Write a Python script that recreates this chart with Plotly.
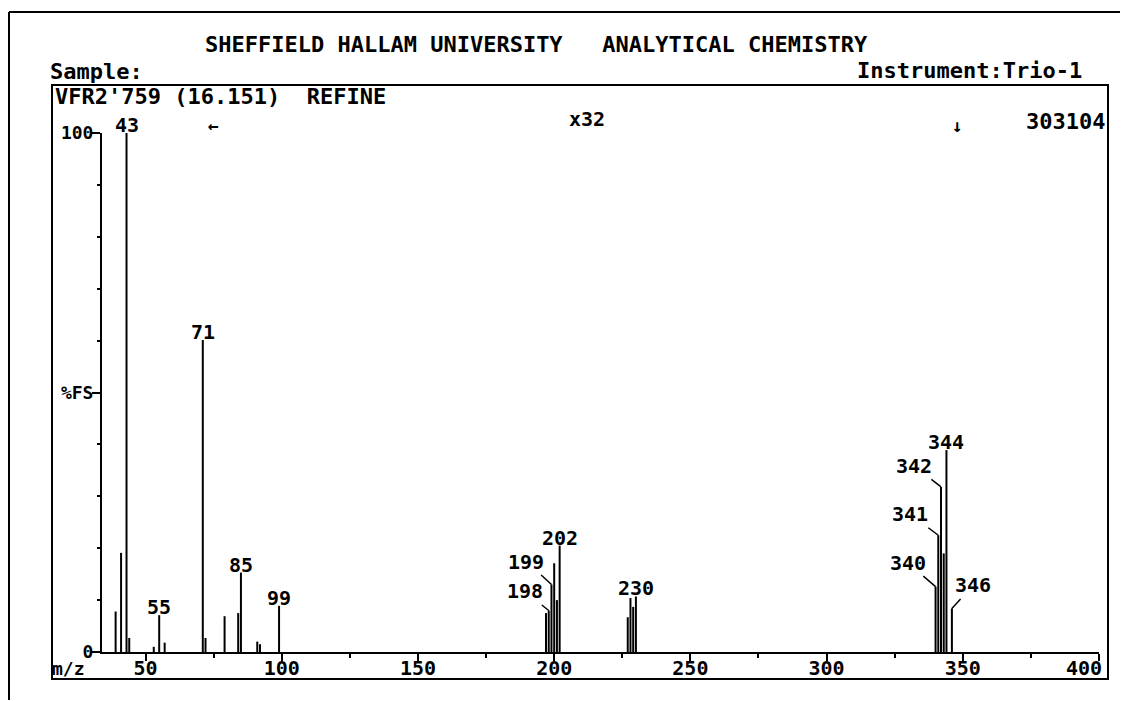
import plotly.graph_objects as go

# ---- data ----
mz = [39, 41, 43, 44, 53, 55, 57, 71, 72, 79, 84, 85, 91, 92, 99,
      197, 198, 199, 200, 201, 202, 227, 228, 229, 230,
      340, 341, 342, 343, 344, 346]
intensity = [7.8, 19.1, 100, 2.7, 1.0, 7.1, 1.8, 60.1, 2.7, 6.9, 7.5, 15.3, 2.0, 1.5, 8.9,
             7.5, 8.0, 13.0, 17.1, 10.0, 20.5, 6.7, 10.4, 8.7, 10.7,
             12.6, 22.5, 31.8, 19.0, 38.9, 8.4]

top_labels = [43, 55, 71, 85, 99, 202, 230, 344]
leader_labels = [198, 199, 340, 341, 342, 346]
leader_offsets = {198: (-24, -19), 199: (-25, -23), 340: (-28, -24),
                  341: (-28, -21), 342: (-27, -21), 346: (21, -23)}

x_tickvals = [50, 100, 150, 200, 250, 300, 350, 400]
x_ticktext = ["50", "100", "150", "200", "250", "300", "350", ""]
last_tick_text = "400"   # drawn just inside the frame, as on the print-out
y_tickvals = [0, 50, 100]
y_ticktext = ["0", "%FS", "100"]

title_text = "SHEFFIELD HALLAM UNIVERSITY   ANALYTICAL CHEMISTRY"
sample_text = "Sample:"
instrument_text = "Instrument:Trio-1"
scan_text = "VFR2'759 (16.151)  REFINE"
mag_text = "x32"
fs_text = "303104"

F = "DejaVu Sans Mono"
W, H = 1121, 701
L, R, T, B = 102, 1099, 133, 652


def px(x):
    return (x - L) / (R - L)


def py(y):
    return (B - y) / (B - T)


xs, ys = [], []
for m, h in zip(mz, intensity):
    xs += [m, m, None]
    ys += [0, h, None]

fig = go.Figure()
fig.add_trace(go.Scatter(x=xs, y=ys, mode="lines",
                         line=dict(color="black", width=2),
                         hoverinfo="skip", showlegend=False))

lookup = dict(zip(mz, intensity))
ann = []
for m in top_labels:
    ann.append(dict(x=m, y=lookup[m], xref="x", yref="y", text=str(m),
                    showarrow=False, yanchor="middle", yshift=8,
                    font=dict(family=F, size=20, color="black", weight="bold")))
for m in leader_labels:
    ax, ay = leader_offsets[m]
    ann.append(dict(x=m, y=lookup[m], xref="x", yref="y", text=str(m),
                    showarrow=True, arrowhead=0, arrowwidth=1.5, arrowcolor="black",
                    ax=ax, ay=ay, standoff=0,
                    font=dict(family=F, size=20, color="black", weight="bold")))


def txt(t, x, y, anchor="center", size=22, yanchor="middle"):
    return dict(x=px(x), y=py(y), xref="paper", yref="paper", text=t,
                showarrow=False, xanchor=anchor, yanchor=yanchor,
                font=dict(family=F, size=size, color="black", weight="bold"))


ann += [
    txt(title_text, 536, 44),
    txt(sample_text, 48, 86, "left", yanchor="bottom"),
    txt(instrument_text, 1084, 85, "right", yanchor="bottom"),
    txt(scan_text, 53, 82, "left", yanchor="top"),
    txt(mag_text, 587, 119, size=20),
    txt(fs_text, 1107, 121, "right"),
    txt("\u2190", 213, 125, size=18),
    txt("\u2193", 957, 125, size=18),
    txt("m/z", 87, 668, "right", size=18),
    txt(last_tick_text, 1104, 668, "right", size=20),
]

shapes = [
    # inner frame
    dict(type="rect", xref="paper", yref="paper",
         x0=px(52), x1=px(1108), y0=py(85), y1=py(679),
         line=dict(color="black", width=2)),
    # outer frame (top and left edges)
    dict(type="line", xref="paper", yref="paper",
         x0=px(9), x1=px(1120), y0=py(12), y1=py(12),
         line=dict(color="black", width=2)),
    dict(type="line", xref="paper", yref="paper",
         x0=px(9), x1=px(9), y0=py(12), y1=py(700),
         line=dict(color="black", width=2)),
]

fig.update_layout(
    width=W, height=H,
    margin=dict(l=L, r=W - R, t=T, b=H - B, pad=0),
    paper_bgcolor="white", plot_bgcolor="white",
    showlegend=False,
    annotations=ann, shapes=shapes,
    xaxis=dict(range=[34, 400], showgrid=False, zeroline=False,
               showline=True, linecolor="black", linewidth=2,
               ticks="outside", ticklen=7, tickwidth=2, tickcolor="black",
               tickvals=x_tickvals, ticktext=x_ticktext,
               ticklabelstandoff=-10,
               tickfont=dict(family=F, size=20, color="black", weight="bold"),
               minor=dict(tickvals=[75, 125, 175, 225, 275, 325, 375],
                          ticks="outside", ticklen=4, tickwidth=2, tickcolor="black"),
               fixedrange=True),
    yaxis=dict(range=[0, 100], showgrid=False, zeroline=False,
               showline=True, linecolor="black", linewidth=2,
               ticks="outside", ticklen=8, tickwidth=2, tickcolor="black",
               tickvals=y_tickvals, ticktext=y_ticktext,
               ticklabelstandoff=-5,
               tickfont=dict(family=F, size=18, color="black", weight="bold"),
               minor=dict(dtick=10, ticks="outside", ticklen=3, tickwidth=2,
                          tickcolor="black"),
               fixedrange=True),
)

fig.write_html(
    "out.html",
    config={"responsive": False, "displayModeBar": False},
    post_script=("document.documentElement.style.overflow='hidden';"
                 "document.body.style.overflow='hidden';"
                 "document.body.style.margin='0';"),
)
